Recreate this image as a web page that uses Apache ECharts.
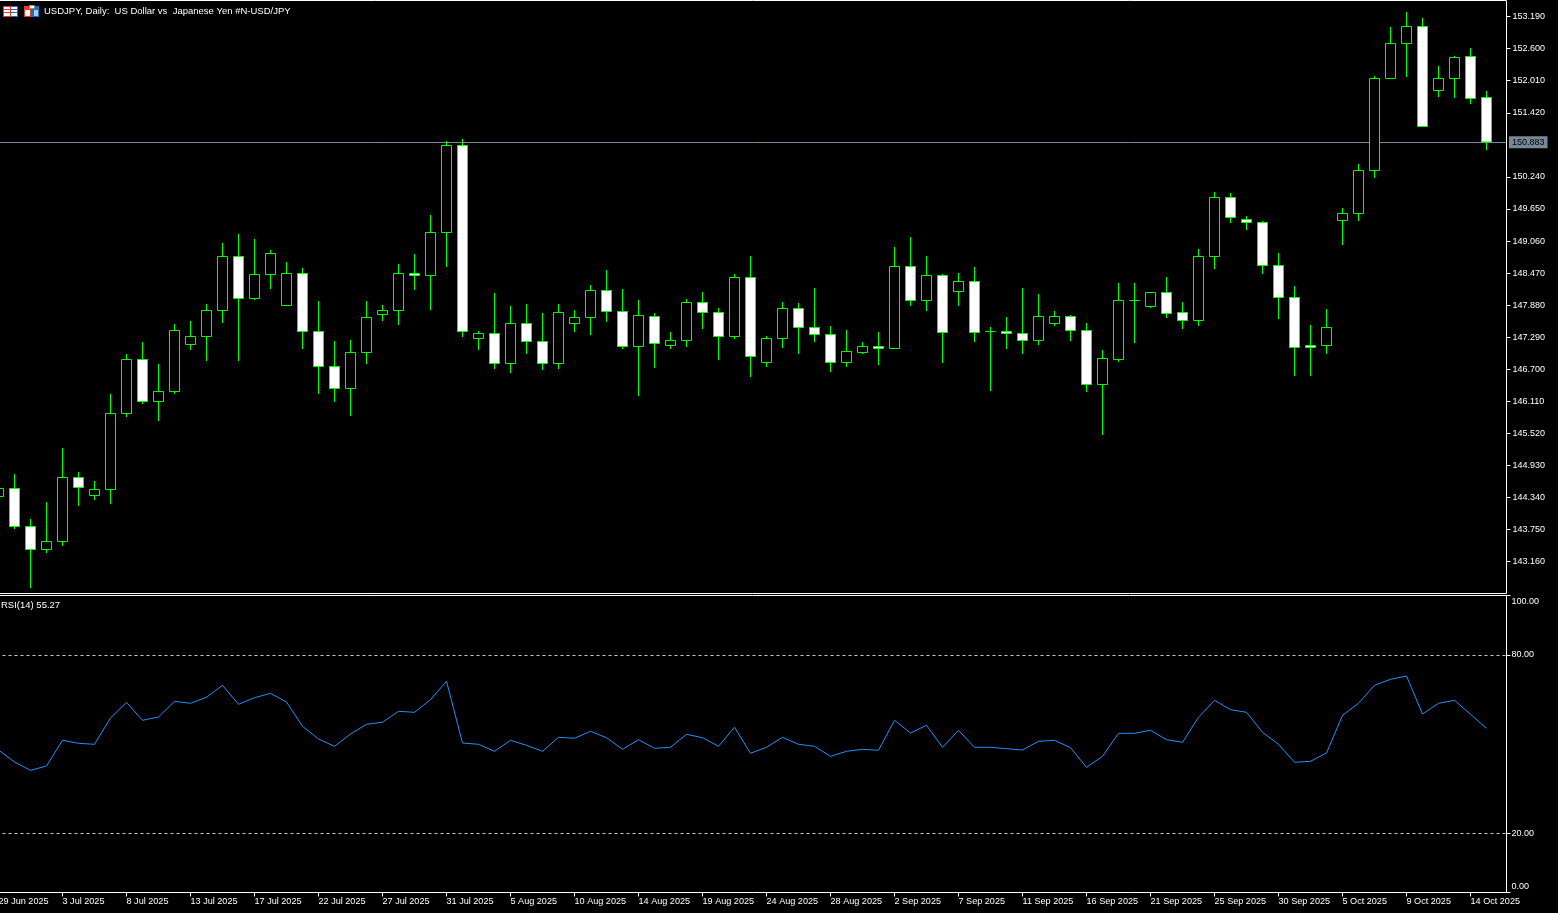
<!DOCTYPE html>
<html>
<head>
<meta charset="utf-8">
<title>USDJPY Daily</title>
<script src="https://cdn.jsdelivr.net/npm/echarts@6/dist/echarts.min.js"></script>
<style>
    html, body { margin: 0; padding: 0; background: #000; overflow: hidden; }
    #chart { width: 1558px; height: 913px; }
</style>
</head>
<body>
<div id="chart"></div>
<script>
    var dates = ['29 Jun 2025','30 Jun 2025','1 Jul 2025','2 Jul 2025','3 Jul 2025','4 Jul 2025','6 Jul 2025','7 Jul 2025','8 Jul 2025','9 Jul 2025',
        '10 Jul 2025','11 Jul 2025','13 Jul 2025','14 Jul 2025','15 Jul 2025','16 Jul 2025','17 Jul 2025','18 Jul 2025','20 Jul 2025','21 Jul 2025',
        '22 Jul 2025','23 Jul 2025','24 Jul 2025','25 Jul 2025','27 Jul 2025','28 Jul 2025','29 Jul 2025','30 Jul 2025','31 Jul 2025','1 Aug 2025',
        '3 Aug 2025','4 Aug 2025','5 Aug 2025','6 Aug 2025','7 Aug 2025','8 Aug 2025','10 Aug 2025','11 Aug 2025','12 Aug 2025','13 Aug 2025',
        '14 Aug 2025','15 Aug 2025','17 Aug 2025','18 Aug 2025','19 Aug 2025','20 Aug 2025','21 Aug 2025','22 Aug 2025','24 Aug 2025','25 Aug 2025',
        '26 Aug 2025','27 Aug 2025','28 Aug 2025','29 Aug 2025','31 Aug 2025','1 Sep 2025','2 Sep 2025','3 Sep 2025','4 Sep 2025','5 Sep 2025',
        '7 Sep 2025','8 Sep 2025','9 Sep 2025','10 Sep 2025','11 Sep 2025','12 Sep 2025','14 Sep 2025','15 Sep 2025','16 Sep 2025','17 Sep 2025',
        '18 Sep 2025','19 Sep 2025','21 Sep 2025','22 Sep 2025','23 Sep 2025','24 Sep 2025','25 Sep 2025','26 Sep 2025','28 Sep 2025','29 Sep 2025',
        '30 Sep 2025','1 Oct 2025','2 Oct 2025','3 Oct 2025','5 Oct 2025','6 Oct 2025','7 Oct 2025','8 Oct 2025','9 Oct 2025','10 Oct 2025',
        '12 Oct 2025','13 Oct 2025','14 Oct 2025','15 Oct 2025'];

    var opens = [144.358,144.506,143.806,143.383,143.530,144.708,144.377,144.487,145.886,146.880,
        146.107,146.291,147.156,147.303,147.781,148.775,148.002,148.444,147.873,148.462,
        147.395,146.751,146.346,147.009,147.708,147.781,148.462,148.426,149.217,150.818,
        147.266,147.358,146.806,147.542,147.211,146.806,147.542,147.653,148.150,147.763,
        147.119,147.671,147.137,147.230,147.929,147.745,147.303,148.389,146.825,147.266,
        147.818,147.469,147.340,146.825,147.009,147.119,147.082,148.591,147.965,148.426,
        148.131,148.315,147.395,147.395,147.358,147.230,147.542,147.671,147.413,146.419,
        146.880,147.965,147.855,148.113,147.745,147.597,148.775,149.861,149.456,149.401,
        148.609,148.021,147.137,147.137,149.438,149.567,150.358,152.051,152.695,153.008,
        151.830,152.051,152.456,151.701];
    var closes = [144.506,143.806,143.383,143.530,144.708,144.524,144.487,145.886,146.880,146.107,
        146.291,147.413,147.303,147.781,148.775,148.002,148.444,148.830,148.462,147.395,
        146.751,146.346,147.009,147.653,147.781,148.462,148.426,149.217,150.818,147.395,
        147.358,146.806,147.542,147.211,146.806,147.745,147.653,148.150,147.763,147.119,
        147.690,147.174,147.230,147.929,147.745,147.303,148.389,146.935,147.266,147.818,
        147.469,147.340,146.825,147.027,147.119,147.082,148.591,147.965,148.426,147.377,
        148.315,147.377,147.395,147.358,147.230,147.671,147.671,147.413,146.419,146.898,
        147.965,147.965,148.113,147.726,147.597,148.775,149.861,149.493,149.401,148.609,
        148.021,147.100,147.100,147.469,149.567,150.358,152.051,152.695,153.008,151.168,
        152.051,152.437,151.683,150.883];
    var lows = [144.312,143.760,142.675,143.319,143.448,144.184,144.294,144.221,145.821,146.061,
        145.748,146.245,147.055,146.852,147.551,146.852,147.975,148.177,147.873,147.073,
        146.245,146.098,145.840,146.797,147.588,147.515,148.159,147.790,148.582,147.294,
        147.055,146.705,146.631,146.981,146.686,146.705,147.386,147.330,147.570,147.073,
        146.208,146.723,147.073,147.110,147.441,146.871,147.257,146.558,146.742,147.091,
        146.981,147.202,146.650,146.742,146.981,146.778,147.082,147.864,147.772,146.815,
        147.864,147.202,146.300,147.073,146.981,147.146,147.496,147.220,146.281,145.490,
        146.834,147.183,147.827,147.643,147.441,147.496,148.545,149.392,149.263,148.453,
        147.625,146.576,146.576,146.981,148.987,149.428,150.220,152.051,152.079,151.168,
        151.710,151.692,151.582,150.735];
    var highs = [144.551,144.772,143.944,144.257,145.251,144.809,144.644,146.245,146.981,147.202,
        146.797,147.533,147.588,147.901,149.024,149.189,149.097,148.895,148.674,148.564,
        147.956,147.220,147.239,147.956,147.883,148.637,148.821,149.539,150.901,150.938,
        147.404,148.104,147.864,147.901,147.735,147.901,147.790,148.251,148.527,148.177,
        147.975,147.735,147.386,147.993,148.122,147.827,148.453,148.785,147.312,147.938,
        147.919,148.196,147.496,147.423,147.202,147.386,148.950,149.134,148.785,148.453,
        148.471,148.582,147.478,147.662,148.196,148.085,147.772,147.698,147.551,147.055,
        148.288,148.288,148.113,148.398,147.938,148.913,149.962,149.944,149.521,149.428,
        148.840,148.232,147.515,147.809,149.668,150.477,152.097,152.999,153.275,153.164,
        152.281,152.465,152.612,151.821];

    var rsi = [47.98,43.94,41.14,42.59,51.25,50.24,49.90,58.75,64.04,57.98,
        59.09,64.38,63.70,65.72,69.76,63.37,65.59,67.07,64.14,55.96,
        51.68,49.23,53.37,56.63,57.31,61.01,60.67,64.92,71.11,50.34,
        49.90,47.54,51.25,49.56,47.54,52.26,51.92,54.28,52.12,48.22,
        51.45,48.55,48.89,53.27,52.12,49.23,55.62,46.87,48.89,52.26,
        49.90,49.23,45.86,47.54,48.22,47.88,57.98,53.70,56.30,48.89,
        54.61,48.89,48.89,48.42,47.98,50.91,51.25,48.75,42.15,45.86,
        53.60,53.60,54.61,51.45,50.57,58.99,64.71,61.55,60.67,53.94,
        49.90,43.84,44.18,46.97,59.66,63.70,69.76,71.78,72.90,60.10,
        63.70,64.71,60.00,55.27];

    var priceTicks = [153.19,152.60,152.01,151.42,150.24,149.65,149.06,148.47,147.88,147.29,146.70,146.11,145.52,144.93,144.34,143.75,143.16];
    var rsiTicks = [0,20,80,100];
    var rsiLevels = [20,80];
    var dateTicks = [0,4,8,12,16,20,24,28,32,36,40,44,48,52,56,60,64,68,72,76,80,84,88,92];
    var lastPrice = 150.883;

    var chartFont = '"Liberation Sans", Arial, sans-serif';
    var green = '#00ff00';

    var myChart = echarts.init(document.getElementById('chart'), null, {renderer: 'canvas'});

    // the two icons in front of the chart title
    function box(x, y, w, h, fill) {
        return {type: 'rect', shape: {x: x, y: y, width: w, height: h}, style: {fill: fill}, silent: true};
    }
    var icons = [
        box(3, 6, 8, 11, '#e8392e'), box(11, 6, 7, 11, '#1673c4'),
        box(4, 7, 6, 2, '#fff'), box(4, 10, 6, 2, '#fff'), box(4, 13, 6, 3, '#fff'),
        box(11, 7, 6, 2, '#fff'), box(11, 10, 6, 2, '#fff'), box(11, 13, 6, 3, '#fff'),
        box(24, 6, 7, 11, '#e8392e'), box(31, 6, 8, 11, '#1673c4'),
        box(25, 10, 5, 6, '#fff'), box(34, 10, 4, 6, '#9fd0f2'),
        box(29, 5, 6, 4, '#8a8a8a'), box(30, 6, 4, 2, '#fff')
    ];

    var option = {
        backgroundColor: '#000',
        animation: false,
        textStyle: {fontFamily: chartFont},
        title: [
            {text: 'USDJPY, Daily:  US Dollar vs  Japanese Yen #N-USD/JPY', left: 44, top: 6, padding: 0,
                textStyle: {color: '#fff', fontSize: 9.5, fontWeight: 'normal', fontFamily: chartFont}},
            {text: 'RSI(14) 55.27', left: 1, top: 600, padding: 0,
                textStyle: {color: '#fff', fontSize: 9.5, fontWeight: 'normal', fontFamily: chartFont}}
        ],
        graphic: icons,
        grid: [
            {left: -9.5, top: 0.5, width: 1516, height: 593, outerBoundsMode: 'none', containLabel: false,
                show: true, borderColor: '#fff', borderWidth: 1, backgroundColor: '#000'},
            {left: -9.5, top: 595.5, width: 1516, height: 297, outerBoundsMode: 'none', containLabel: false,
                show: true, borderColor: '#fff', borderWidth: 1, backgroundColor: '#000'}
        ],
        xAxis: [
            {type: 'value', gridIndex: 0, min: -0.5, max: 94.25,
                axisLine: {show: false, onZero: false}, axisTick: {show: false}, axisLabel: {show: false}, splitLine: {show: false}},
            {type: 'value', gridIndex: 1, min: -0.5, max: 94.25,
                axisLine: {show: false, onZero: false},
                axisTick: {show: true, length: 4, inside: false, lineStyle: {color: '#fff'}, customValues: dateTicks},
                axisLabel: {show: true, color: '#fff', fontSize: 9.1, fontFamily: chartFont, margin: 4, align: 'left',
                    customValues: dateTicks,
                    formatter: function (v) { return dates[v]; }},
                splitLine: {show: false}}
        ],
        yAxis: [
            {type: 'value', gridIndex: 0, position: 'right', min: 142.5735, max: 153.4863,
                axisLine: {show: false, onZero: false},
                axisTick: {show: true, length: 4, lineStyle: {color: '#fff'}, customValues: priceTicks},
                axisLabel: {color: '#fff', fontSize: 9, fontFamily: chartFont, margin: 6,
                    customValues: priceTicks,
                    formatter: function (v) { return v.toFixed(3); }},
                splitLine: {show: false}},
            {type: 'value', gridIndex: 1, position: 'right', min: 0, max: 100,
                axisLine: {show: false, onZero: false},
                axisTick: {show: true, length: 4, lineStyle: {color: '#fff'}, customValues: rsiTicks},
                axisLabel: {color: '#fff', fontSize: 9, lineHeight: 12, fontFamily: chartFont, margin: 5,
                    customValues: rsiTicks,
                    verticalAlignMinLabel: 'bottom', verticalAlignMaxLabel: 'top',
                    formatter: function (v) { return v.toFixed(2); }},
                splitLine: {show: false}}
        ],
        series: [
            {
                name: 'USDJPY',
                type: 'candlestick',
                xAxisIndex: 0,
                yAxisIndex: 0,
                barWidth: 10,
                itemStyle: {
                    color: '#000',
                    color0: '#fff',
                    borderColor: green,
                    borderColor0: green,
                    borderColorDoji: green,
                    borderWidth: 1
                },
                data: dates.map(function (d, i) {
                    return [i, opens[i], closes[i], lows[i], highs[i]];
                }),
                markLine: {
                    silent: true,
                    z: 1,
                    symbol: 'none',
                    lineStyle: {color: '#778899', width: 1, type: 'solid'},
                    label: {
                        show: true, position: 'end', distance: 2.5,
                        color: '#000', backgroundColor: '#778899', padding: [2, 3, 1, 3],
                        fontSize: 9, fontFamily: chartFont,
                        formatter: function () { return lastPrice.toFixed(3); }
                    },
                    data: [{yAxis: lastPrice}]
                }
            },
            {
                name: 'RSI(14)',
                type: 'line',
                xAxisIndex: 1,
                yAxisIndex: 1,
                symbol: 'none',
                lineStyle: {color: '#1e90ff', width: 1},
                data: rsi.map(function (v, i) { return [i, v]; }),
                markLine: {
                    silent: true,
                    symbol: 'none',
                    label: {show: false},
                    lineStyle: {color: '#c8c8c8', width: 1, type: [3, 3]},
                    data: rsiLevels.map(function (v) { return {yAxis: v}; })
                }
            }
        ]
    };
    myChart.setOption(option);
</script>
</body>
</html>
